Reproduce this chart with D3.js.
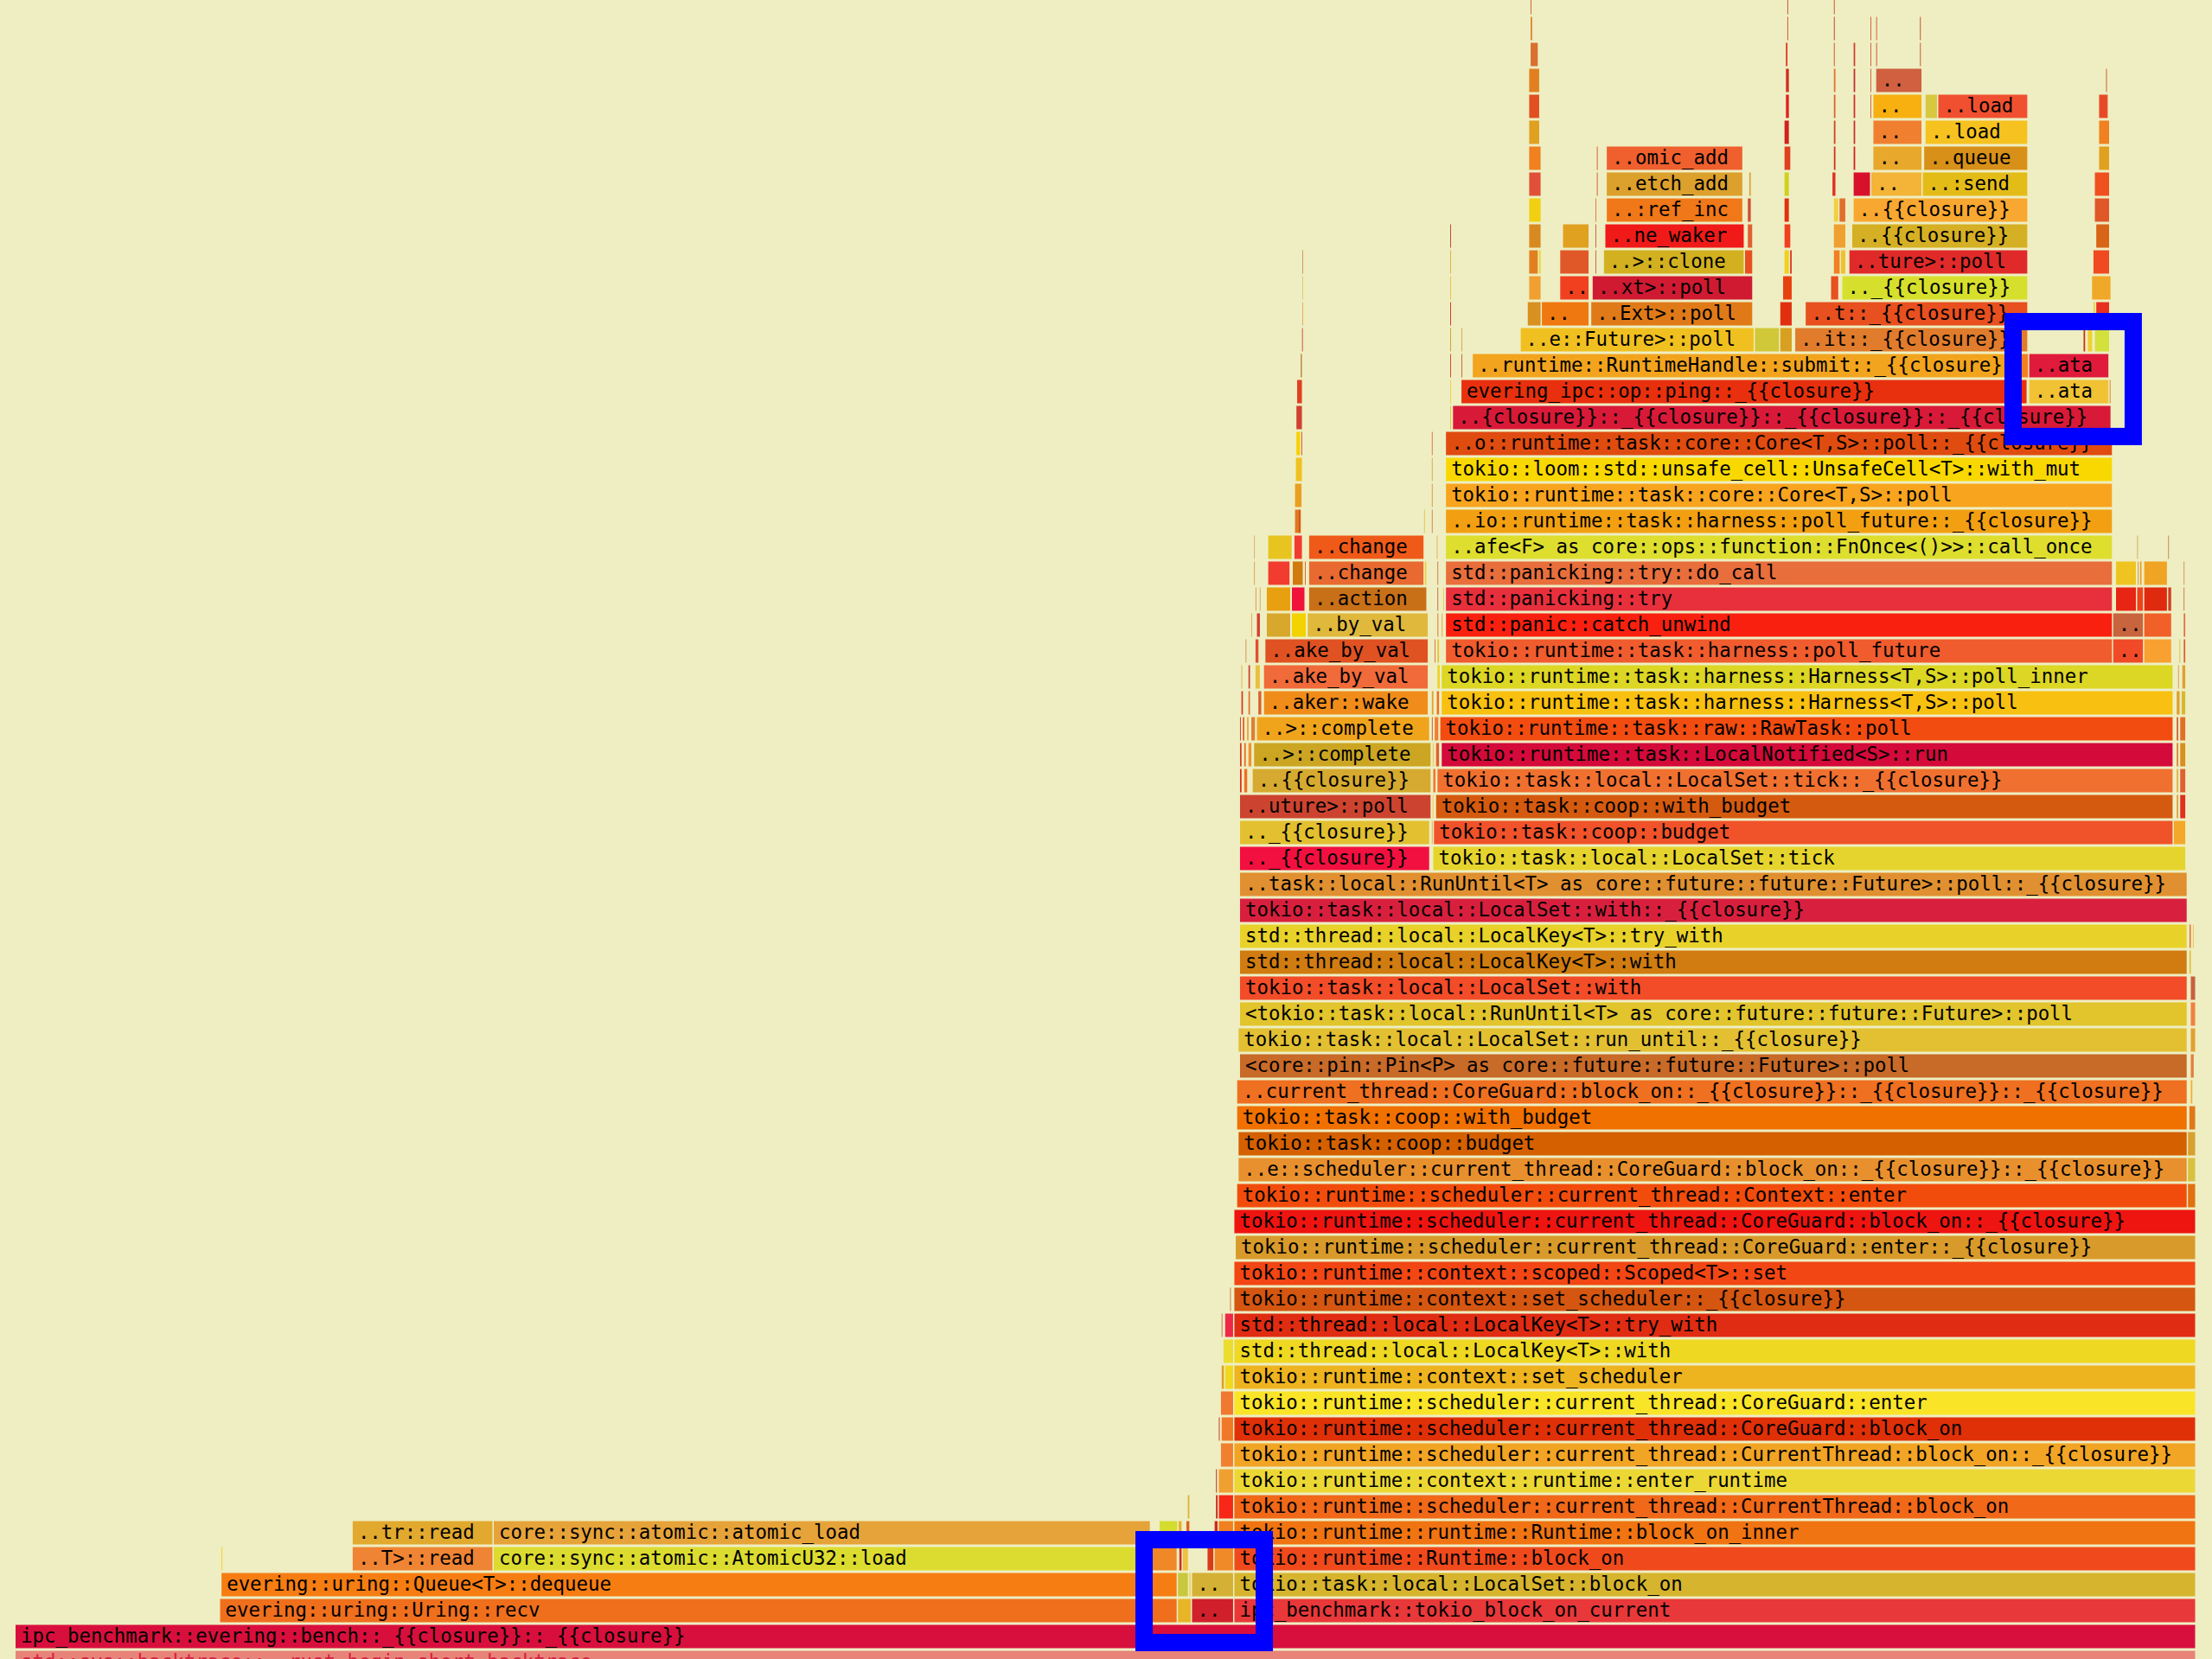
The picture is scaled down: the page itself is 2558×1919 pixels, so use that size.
<!DOCTYPE html>
<html><head><meta charset="utf-8">
<script src="https://cdn.jsdelivr.net/npm/d3@7/dist/d3.min.js"></script>
<style>html,body{margin:0;padding:0;background:#eeeec2;overflow:hidden}</style>
</head><body>
<svg id="chart" width="2558" height="1919"></svg>
<script>
// Flame graph: total samples across the root frame
const TOTAL_SAMPLES = 1546;
// frame tuples: [depth, startSample, endSample, color, label]
const baseRows = [
  [0, 0, 1546, "#e8837a", "std::sys::backtrace::__rust_begin_short_backtrace"],
  [1, 0, 1546, "#d80f3c", "ipc_benchmark::evering::bench::_{{closure}}::_{{closure}}"]
];
const everingRows = [
  [2, 145, 824, "#ef6f1d", "evering::uring::Uring::recv"],
  [3, 146, 824, "#f67d12", "evering::uring::Queue<T>::dequeue"],
  [4, 146, 147.5, "#f0d020", ""],
  [4, 239, 339, "#ef8434", "..T>::read"],
  [4, 339, 806, "#dcdc30", "core::sync::atomic::AtomicU32::load"],
  [4, 806, 824, "#f08828", ""],
  [5, 239, 339, "#e1a92e", "..tr::read"],
  [5, 339, 805, "#e6a33a", "core::sync::atomic::atomic_load"],
  [5, 811, 824.5, "#d4dc30", ""],
  [5, 824.5, 827.5, "#e8b030", ""],
  [5, 830, 833, "#e06020", ""],
  [6, 831, 833, "#e0b030", ""],
  [2, 824, 834, "#e8b428", ""],
  [2, 834, 864, "#d0202c", ".."],
  [3, 824, 832, "#c8c840", ""],
  [3, 832, 834, "#f0d060", ""],
  [3, 834, 864, "#d4b034", ".."],
  [4, 825, 827.5, "#d03020", ""],
  [4, 827.5, 832, "#f0c040", ""],
  [4, 845, 850, "#d83a1a", ""],
  [4, 850, 864, "#f08a28", ""],
  [5, 850, 853, "#d02a20", ""],
  [5, 853, 864, "#f08020", ""],
  [6, 851, 853, "#c02010", ""],
  [6, 853, 864, "#f82818", ""],
  [7, 851, 852.5, "#d02010", ""],
  [7, 853, 864, "#f0a030", ""],
  [8, 854.5, 864, "#f08030", ""],
  [9, 853, 854.5, "#c83020", ""],
  [9, 855, 864, "#f07828", ""],
  [10, 854.5, 864, "#f07830", ""],
  [11, 855, 857.5, "#e0a020", ""],
  [11, 857.5, 864, "#f0d820", ""],
  [12, 856.3, 864, "#ecdc30", ""],
  [13, 855, 856, "#d05030", ""],
  [13, 857.5, 864, "#f02848", ""],
  [14, 861, 862, "#c06030", ""]
];
const runtimeRows = [
  [2, 864, 1546, "#e8383a", "ipc_benchmark::tokio_block_on_current"],
  [3, 864, 1546, "#d6b42e", "tokio::task::local::LocalSet::block_on"],
  [4, 864, 1546, "#f04a1c", "tokio::runtime::Runtime::block_on"],
  [5, 864, 1546, "#f07412", "tokio::runtime::runtime::Runtime::block_on_inner"],
  [6, 864, 1546, "#f06818", "tokio::runtime::scheduler::current_thread::CurrentThread::block_on"],
  [7, 864, 1546, "#ecd834", "tokio::runtime::context::runtime::enter_runtime"],
  [8, 864, 1546, "#f2a424", "tokio::runtime::scheduler::current_thread::CurrentThread::block_on::_{{closure}}"],
  [9, 864, 1546, "#e03008", "tokio::runtime::scheduler::current_thread::CoreGuard::block_on"],
  [10, 864, 1546, "#fae428", "tokio::runtime::scheduler::current_thread::CoreGuard::enter"],
  [11, 864, 1546, "#eeb420", "tokio::runtime::context::set_scheduler"],
  [12, 864, 1546, "#eed822", "std::thread::local::LocalKey<T>::with"],
  [13, 864, 1546, "#e02c12", "std::thread::local::LocalKey<T>::try_with"],
  [14, 864, 1546, "#d45610", "tokio::runtime::context::set_scheduler::_{{closure}}"],
  [15, 864, 1546, "#f24614", "tokio::runtime::context::scoped::Scoped<T>::set"],
  [16, 865, 1546, "#d89a2a", "tokio::runtime::scheduler::current_thread::CoreGuard::enter::_{{closure}}"],
  [17, 864, 1546, "#ee1410", "tokio::runtime::scheduler::current_thread::CoreGuard::block_on::_{{closure}}"],
  [18, 866, 1540, "#f24c0c", "tokio::runtime::scheduler::current_thread::Context::enter"],
  [19, 867, 1540, "#e8902e", "..e::scheduler::current_thread::CoreGuard::block_on::_{{closure}}::_{{closure}}"],
  [20, 867, 1540, "#d46000", "tokio::task::coop::budget"],
  [21, 866, 1540, "#f07000", "tokio::task::coop::with_budget"],
  [22, 866, 1540, "#ee7020", "..current_thread::CoreGuard::block_on::_{{closure}}::_{{closure}}::_{{closure}}"],
  [23, 868, 1540, "#c86a28", "<core::pin::Pin<P> as core::future::future::Future>::poll"],
  [24, 867, 1540, "#e2c032", "tokio::task::local::LocalSet::run_until::_{{closure}}"],
  [25, 868, 1540, "#e2c42c", "<tokio::task::local::RunUntil<T> as core::future::future::Future>::poll"],
  [26, 868, 1540, "#f24c28", "tokio::task::local::LocalSet::with"],
  [27, 868, 1540, "#d07c10", "std::thread::local::LocalKey<T>::with"],
  [28, 868, 1540, "#e8d22a", "std::thread::local::LocalKey<T>::try_with"],
  [29, 868, 1540, "#d8203e", "tokio::task::local::LocalSet::with::_{{closure}}"],
  [30, 868, 1540, "#e09030", "..task::local::RunUntil<T> as core::future::future::Future>::poll::_{{closure}}"],
  [18, 1540, 1546, "#e07010", ""],
  [19, 1540, 1546, "#d8c040", ""],
  [20, 1540, 1546, "#d8a030", ""],
  [21, 1541, 1546, "#e07818", ""],
  [22, 1542, 1544, "#f0b030", ""],
  [23, 1542, 1545, "#e08040", ""],
  [24, 1542, 1546, "#e0a030", ""],
  [25, 1542, 1546, "#f08040", ""],
  [26, 1542, 1546, "#c86040", ""],
  [27, 1541, 1543, "#e0c040", ""],
  [28, 1541, 1543, "#e08040", ""],
  [28, 1543.5, 1545, "#f0c050", ""]
];
const wakerRows = [
  [31, 868, 1003, "#f21040", ".._{{closure}}"],
  [32, 868, 1003, "#e2c030", ".._{{closure}}"],
  [33, 868, 1004, "#cc4430", "..uture>::poll"],
  [34, 877, 1004, "#d6aa30", "..{{closure}}"],
  [34, 868, 870, "#d83020", ""], [34, 871, 874, "#f07020", ""],
  [35, 878, 1004, "#cca622", "..>::complete"],
  [35, 868, 870, "#d04020", ""], [35, 871, 873, "#e07020", ""], [35, 874, 877, "#f09030", ""],
  [36, 880, 1003, "#f0a41c", "..>::complete"],
  [36, 868, 869.5, "#d04030", ""], [36, 870, 872, "#e06020", ""], [36, 873, 875, "#f0a040", ""], [36, 876, 879.5, "#e08030", ""],
  [37, 885, 1002, "#f08c1a", "..aker::wake"],
  [37, 869, 871, "#d04020", ""], [37, 874, 876, "#e07030", ""], [37, 881, 884, "#d86030", ""],
  [38, 885, 1002, "#f06a3a", "..ake_by_val"],
  [38, 869, 870, "#e0a040", ""], [38, 874, 876, "#d04030", ""], [38, 879, 883, "#e8c040", ""],
  [39, 886, 1002, "#e05222", "..ake_by_val"],
  [39, 872, 873, "#d08040", ""], [39, 879, 882, "#e05030", ""],
  [40, 887, 904.5, "#d8a82c", ""], [40, 904.8, 915.5, "#f2d200", ""],
  [40, 916, 1002, "#e0b83c", "..by_val"],
  [40, 876, 877, "#e0a040", ""], [40, 880, 883, "#d04030", ""],
  [41, 887, 904.5, "#e8a010", ""], [41, 904.8, 914.6, "#f0123a", ""],
  [41, 917, 1001, "#c87018", "..action"],
  [41, 879, 880, "#e08040", ""], [41, 882, 883, "#d0a040", ""],
  [42, 888, 904, "#f23c30", ""], [42, 905.4, 913.4, "#d07a10", ""], [42, 914, 915.5, "#e06030", ""],
  [42, 917, 999, "#e86a30", "..change"], [42, 999, 1001, "#f0d040", ""], [42, 878, 879, "#e09040", ""],
  [43, 888, 905.5, "#e8c420", ""], [43, 906.6, 912.8, "#f03c30", ""],
  [43, 917, 999, "#f05a18", "..change"], [43, 878, 879, "#e0a050", ""],
  [44, 907, 912, "#e07820", ""], [44, 910, 911, "#c03020", ""],
  [45, 907, 912.5, "#e8a020", ""],
  [46, 907.6, 912.8, "#f0c020", ""],
  [47, 908, 911.5, "#f8d000", ""], [47, 911.5, 912.8, "#d03020", ""],
  [48, 908, 912.8, "#d04030", ""],
  [49, 908.5, 912.8, "#e04020", ""],
  [50, 911, 912.8, "#c08040", ""],
  [51, 912, 913, "#d03020", ""],
  [52, 912.2, 912.9, "#e0a040", ""],
  [53, 912.2, 912.9, "#e0c060", ""],
  [54, 912.2, 912.9, "#d08040", ""]
];
const taskRows = [
  [31, 1005, 1539, "#e6d42e", "tokio::task::local::LocalSet::tick"],
  [32, 1005.5, 1530, "#f0522a", "tokio::task::coop::budget"], [32, 1530, 1539, "#f4a82a", ""],
  [33, 1007, 1530, "#d45a10", "tokio::task::coop::with_budget"], [33, 1532, 1534, "#e0a040", ""], [33, 1534.5, 1539, "#e03020", ""],
  [34, 1008, 1530, "#f07030", "tokio::task::local::LocalSet::tick::_{{closure}}"], [34, 1532, 1534, "#e0b040", ""], [34, 1534.5, 1539, "#e06030", ""],
  [35, 1011, 1530, "#d40a3a", "tokio::runtime::task::LocalNotified<S>::run"], [35, 1532, 1534, "#e08030", ""], [35, 1534.5, 1539, "#d89020", ""],
  [36, 1010, 1530, "#f24c10", "tokio::runtime::task::raw::RawTask::poll"], [36, 1532, 1534, "#d06030", ""], [36, 1534.5, 1539, "#e07028", ""],
  [37, 1011, 1530, "#f8c010", "tokio::runtime::task::harness::Harness<T,S>::poll"], [37, 1532, 1535, "#e0a030", ""], [37, 1535.5, 1539, "#d8b830", ""],
  [38, 1011, 1530, "#dcd624", "tokio::runtime::task::harness::Harness<T,S>::poll_inner"], [38, 1533, 1534, "#e08040", ""], [38, 1536, 1539, "#e0a030", ""],
  [39, 1014, 1487, "#f05c2e", "tokio::runtime::task::harness::poll_future"], [39, 1487, 1509, "#f04a28", ".."], [39, 1509, 1529, "#f8a030", ""], [39, 1534, 1535, "#e0b040", ""], [39, 1537, 1539, "#d86030", ""],
  [40, 1014, 1487, "#fa2010", "std::panic::catch_unwind"], [40, 1487, 1509, "#c8643e", ".."], [40, 1509, 1529, "#f06028", ""], [40, 1537, 1539, "#e07040", ""],
  [41, 1014, 1487, "#e8303c", "std::panicking::try"], [41, 1489, 1504, "#e82414", ""], [41, 1504, 1509, "#f04020", ""], [41, 1509, 1526, "#e02a10", ""], [41, 1526, 1529, "#d04020", ""], [41, 1537, 1538, "#d06040", ""],
  [42, 1014, 1487, "#e86e3c", "std::panicking::try::do_call"], [42, 1489, 1504, "#f0c420", ""], [42, 1504.5, 1505.5, "#d08030", ""], [42, 1506, 1508, "#e8a030", ""], [42, 1509, 1526, "#f0a424", ""], [42, 1537, 1538, "#d08040", ""],
  [43, 1014, 1487, "#dede2e", "..afe<F> as core::ops::function::FnOnce<()>>::call_once"], [43, 1504, 1505, "#c8a040", ""], [43, 1526, 1527, "#c07040", ""],
  [44, 1014, 1487, "#f2a012", "..io::runtime::task::harness::poll_future::_{{closure}}"],
  [45, 1014, 1487, "#f8a41e", "tokio::runtime::task::core::Core<T,S>::poll"],
  [46, 1014, 1487, "#f8d800", "tokio::loom::std::unsafe_cell::UnsafeCell<T>::with_mut"],
  [47, 1014, 1487, "#e04c10", "..o::runtime::task::core::Core<T,S>::poll::_{{closure}}"],
  [48, 1019, 1486, "#d81a38", "..{closure}}::_{{closure}}::_{{closure}}::_{{closure}}"],
  [49, 1025, 1426.5, "#e8300e", "evering_ipc::op::ping::_{{closure}}"], [49, 1427.5, 1484.5, "#f0c234", "..ata"], [49, 1484.5, 1486, "#e08020", ""],
  [50, 1033, 1421.5, "#f2a41e", "..runtime::RuntimeHandle::submit::_{{closure}}"], [50, 1422, 1427.5, "#f08020", ""], [50, 1427.5, 1484.5, "#e01a3a", "..ata"],
  [32, 1004, 1005, "#e0a040", ""], [33, 1004.5, 1006, "#f0c050", ""], [34, 1005, 1007.5, "#f07830", ""],
  [35, 1004.5, 1006.5, "#f0d070", ""], [35, 1007, 1010, "#e06030", ""],
  [36, 1004, 1005.5, "#d05030", ""], [36, 1006, 1009.5, "#f08030", ""],
  [37, 1004, 1006, "#e0a030", ""], [37, 1007.5, 1010, "#f07020", ""],
  [38, 1008, 1010.5, "#f0d020", ""],
  [39, 1006, 1007.5, "#e07040", ""], [39, 1008, 1010, "#e8c030", ""],
  [40, 1008, 1009.5, "#e07030", ""], [40, 1011, 1012.5, "#f0a040", ""],
  [41, 1008, 1009, "#c05030", ""], [41, 1012, 1013, "#e8c040", ""],
  [42, 1008, 1009, "#d06030", ""], [43, 1007.5, 1008.5, "#e0a040", ""],
  [44, 998.5, 999.5, "#e0c040", ""], [44, 1004, 1005, "#d07030", ""],
  [45, 1004, 1005, "#e08030", ""], [46, 1004, 1005, "#d0a030", ""], [47, 1004, 1005, "#e06030", ""]
];
const pollRows = [
  [51, 1067, 1233, "#f0c020", "..e::Future>::poll"], [51, 1233, 1251, "#d0c838", ""], [51, 1251, 1260, "#d8a020", ""],
  [51, 1261.6, 1427, "#e07c2c", "..it::_{{closure}}"], [51, 1466, 1468, "#c83010", ""], [51, 1469, 1473, "#f0d030", ""], [51, 1474, 1485, "#d4e03c", ""],
  [52, 1072, 1082, "#d89020", ""], [52, 1082, 1116, "#f07810", ".."], [52, 1117, 1232, "#e07a18", "..Ext>::poll"], [52, 1251, 1260, "#e03010", ""],
  [52, 1269, 1427, "#e85020", "..t::_{{closure}}"], [52, 1473, 1475, "#f0d040", ""], [52, 1475, 1485, "#e83020", ""],
  [53, 1073, 1082, "#f0a030", ""], [53, 1095, 1116, "#f04020", ".."], [53, 1118, 1232, "#d01a32", "..xt>::poll"], [53, 1253, 1260, "#e84010", ""],
  [53, 1287, 1293, "#e85020", ""], [53, 1295, 1427, "#d6e02c", ".._{{closure}}"], [53, 1472, 1486, "#f0a828", ""],
  [54, 1073, 1080, "#e08020", ""], [54, 1080, 1082, "#f0d020", ""], [54, 1095, 1116, "#e05828", ""], [54, 1120, 1121, "#d04020", ""],
  [54, 1126, 1226, "#d2b020", "..>::clone"], [54, 1226, 1232, "#e85020", ""], [54, 1254, 1258, "#f0d020", ""], [54, 1258, 1260, "#e03020", ""],
  [54, 1289, 1294, "#f08020", ""], [54, 1294, 1298, "#f0c030", ""], [54, 1300, 1427, "#e02a2a", "..ture>::poll"], [54, 1473, 1485, "#f04a20", ""],
  [55, 1073, 1082, "#d88a20", ""], [55, 1097, 1116, "#e0a020", ""], [55, 1120, 1121, "#d04020", ""], [55, 1127, 1226, "#f01a18", "..ne_waker"],
  [55, 1228, 1232, "#e06030", ""], [55, 1254, 1259, "#f04020", ""], [55, 1289, 1298, "#f0a030", ""], [55, 1302, 1427, "#d6b024", "..{{closure}}"], [55, 1475, 1485, "#d86418", ""],
  [56, 1073, 1082, "#f0d010", ""], [56, 1120, 1121, "#e06030", ""], [56, 1128, 1225, "#f07818", "..:ref_inc"], [56, 1228, 1231, "#d05030", ""],
  [56, 1254, 1258, "#e03010", ""], [56, 1289, 1293, "#f0d040", ""], [56, 1293, 1298, "#e07030", ""], [56, 1303, 1427, "#f8a830", "..{{closure}}"], [56, 1474, 1485, "#e05828", ""],
  [57, 1073, 1082, "#e05038", ""], [57, 1121, 1122, "#d04020", ""], [57, 1128, 1225, "#dca02c", "..etch_add"], [57, 1229, 1231, "#e0a040", ""],
  [57, 1254, 1258, "#d0d020", ""], [57, 1288, 1291, "#e03020", ""], [57, 1303, 1315.5, "#d8102c", ""], [57, 1315.5, 1352, "#f4b438", ".."],
  [57, 1352, 1427, "#e4bc18", "..:send"], [57, 1474, 1485, "#f05020", ""],
  [58, 1073, 1082, "#f08020", ""], [58, 1121, 1122, "#d04020", ""], [58, 1128, 1225, "#f0602e", "..omic_add"], [58, 1254, 1259, "#e04020", ""],
  [58, 1289, 1291, "#d03020", ""], [58, 1303, 1305, "#d02020", ""], [58, 1317, 1352, "#e8a82c", ".."], [58, 1353, 1427, "#d89018", "..queue"], [58, 1477, 1485, "#e0a020", ""],
  [59, 1073, 1081, "#e0a020", ""], [59, 1254, 1258, "#d02020", ""], [59, 1289, 1291, "#d04020", ""], [59, 1303, 1305, "#c83030", ""],
  [59, 1317, 1352, "#f08030", ".."], [59, 1354, 1427, "#f6c220", "..load"], [59, 1477, 1485, "#f08020", ""],
  [60, 1073, 1081, "#e05020", ""], [60, 1255, 1258, "#e02020", ""], [60, 1289, 1291, "#e06030", ""], [60, 1303, 1305, "#d03030", ""], [60, 1315, 1316, "#d04030", ""],
  [60, 1317, 1352, "#f8b010", ".."], [60, 1354, 1363, "#d8c840", ""], [60, 1363, 1427, "#f05030", "..load"], [60, 1477, 1484, "#e84a28", ""],
  [61, 1073, 1081, "#e08020", ""], [61, 1255, 1258, "#d03020", ""], [61, 1289, 1291, "#e07030", ""], [61, 1303, 1305, "#c03030", ""], [61, 1315, 1316, "#d04030", ""],
  [61, 1319, 1352, "#d06040", ".."], [61, 1482, 1483, "#c04020", ""],
  [62, 1074, 1080, "#d87030", ""], [62, 1255, 1257, "#e03020", ""], [62, 1289, 1290.5, "#d05030", ""], [62, 1303, 1305, "#d04030", ""], [62, 1315, 1316, "#d04030", ""],
  [62, 1319, 1320.5, "#d05030", ""], [62, 1350, 1351.5, "#d05030", ""],
  [63, 1074, 1076, "#e08030", ""], [63, 1256, 1257, "#d03020", ""], [63, 1289, 1290.5, "#c04030", ""], [63, 1315, 1316, "#d04030", ""], [63, 1319, 1320.5, "#d06030", ""], [63, 1350, 1351.5, "#c05030", ""],
  [64, 1074, 1075.5, "#d06030", ""], [64, 1256, 1257, "#c03020", ""], [64, 1289, 1290.5, "#d05030", ""]
];
const spikeRows = [
  [48, 1017, 1018.5, "#e8c030", ""], [49, 1017, 1018.5, "#f0d040", ""], [50, 1017, 1018.5, "#e04020", ""], [51, 1017, 1018.5, "#d0a030", ""],
  [52, 1017, 1018.5, "#e03020", ""], [53, 1017, 1018.5, "#f0c040", ""], [54, 1017, 1018.5, "#e0b040", ""], [55, 1017, 1018.5, "#c84030", ""],
  [50, 1025, 1026.5, "#d06030", ""], [51, 1025, 1026.5, "#e0a040", ""]
];
// annotation boxes: [startSample, endSample, topDepth, bottomDepth]
const highlightBoxes = [
  [800.0, 885.2, 4.283, 0.317],
  [1416.0, 1501.2, 51.25, 46.82]
];

const frames = [].concat(baseRows, everingRows, runtimeRows, wakerRows, taskRows, pollRows, spikeRows)
  .map(([depth, start, end, color, label]) => ({depth, start, end, color, label}));

const svg = d3.select("#chart");
const W = 2558, H = 1919;
const x = d3.scaleLinear().domain([0, TOTAL_SAMPLES]).range([18, 2540]);
const y = d3.scaleLinear().domain([0, 1]).range([1909.5, 1879.5]);
const rowH = 27;

svg.append("rect").attr("x", 0).attr("y", 0).attr("width", W).attr("height", H).attr("fill", "#eeeec2");

const g = svg.append("g").attr("class", "frames");
const cell = g.selectAll("g.frame").data(frames).join("g").attr("class", "frame");
cell.append("rect")
  .attr("x", d => x(d.start))
  .attr("y", d => y(d.depth))
  .attr("width", d => Math.max(0.8, x(d.end) - x(d.start) - 1.5))
  .attr("height", rowH)
  .attr("fill", d => d.color);
cell.filter(d => d.label).append("text")
  .attr("x", d => x(d.start) + 6)
  .attr("y", d => y(d.depth) + 20.5)
  .attr("font-family", "'DejaVu Sans Mono', monospace")
  .attr("font-size", 22.4)
  .attr("fill", d => d.depth === 0 ? "#d8203c" : "#000")
  .text(d => d.label);

svg.append("g").selectAll("rect").data(highlightBoxes).join("rect")
  .attr("x", d => x(d[0]))
  .attr("y", d => y(d[2]))
  .attr("width", d => x(d[1]) - x(d[0]))
  .attr("height", d => y(d[3]) - y(d[2]))
  .attr("fill", "none")
  .attr("stroke", "#0000ff")
  .attr("stroke-width", 20);
</script>
</body></html>
